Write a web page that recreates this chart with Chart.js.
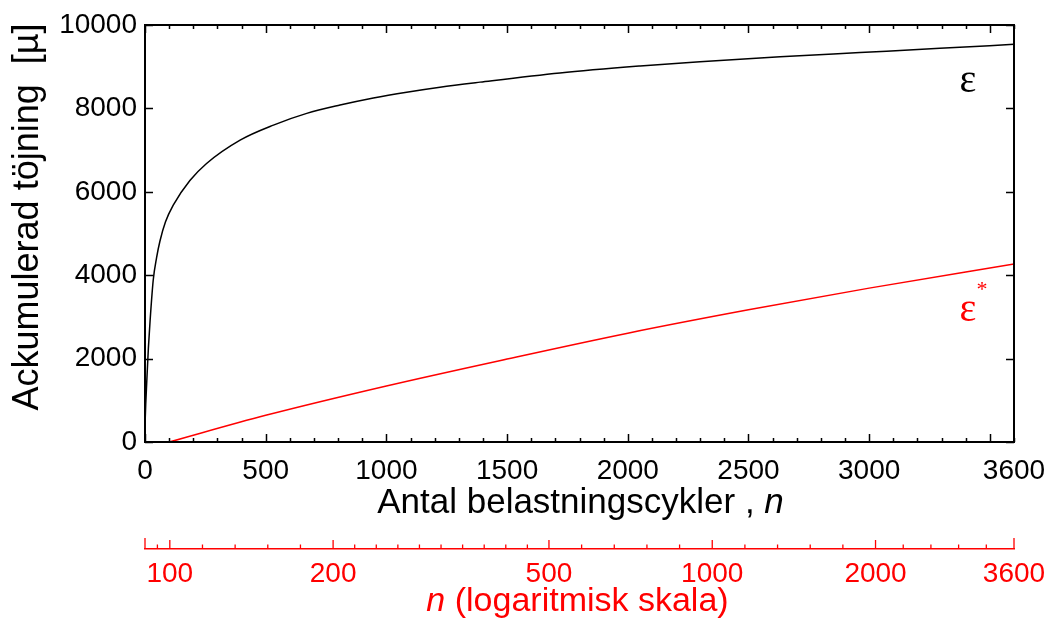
<!DOCTYPE html>
<html>
<head>
<meta charset="utf-8">
<script src="https://cdn.jsdelivr.net/npm/chart.js@4.4.0/dist/chart.umd.min.js"></script>
<style>
  html, body { margin: 0; padding: 0; background: #fff; }
  #wrap { width: 1050px; height: 623px; }
</style>
</head>
<body>
<div id="wrap"><canvas id="chart" width="1050" height="623"></canvas></div>
<script>
// accumulated strain (black)
var epsN = [0, 3, 7, 14, 21, 34, 48, 62, 85, 117, 186, 255, 394, 532, 670, 808, 946, 1084, 1222, 1388, 1719, 2051, 2299, 2631, 2962, 3293, 3600];
var epsV = [400, 900, 1408, 2250, 2900, 3880, 4420, 4820, 5280, 5680, 6270, 6680, 7240, 7600, 7880, 8080, 8250, 8390, 8510, 8630, 8850, 9016, 9120, 9240, 9340, 9440, 9537];
// corrected strain eps* (red)
var epsStarN = [100, 500, 1000, 1500, 2000, 2500, 3000, 3600];
var epsStarV = [0, 640, 1344, 1990, 2610, 3170, 3690, 4270];

var xTicks = [0, 500, 1000, 1500, 2000, 2500, 3000, 3600];
var xMinorStep = 100;
var yTicks = [0, 2000, 4000, 6000, 8000, 10000];
var logTicks = [100, 200, 500, 1000, 2000, 3600];
var logMin = 90, logMax = 3600;
var logMinorCount = [2, 5, 10, 5, 5, 5]; // intervals between neighbouring log ticks

var curveLabels = ['ε', 'ε'];
var curveLabelN = [3409, 3409];
var curveLabelV = [8656, 3161];
var curveLabelColor = ['#000', '#ff0000'];

var FONT = "'Liberation Sans', Arial, Helvetica, sans-serif";
var SERIF = "'Liberation Serif', 'Times New Roman', serif";
Chart.defaults.font.family = FONT;

var toPoints = (xs, ys) => xs.map((x, i) => ({x: x, y: ys[i]}));
var noSidePad = (s) => { s.paddingLeft = 0; s.paddingRight = 0; };

var decor = {
    id: 'decor',
    afterDraw(chart) {
        var ctx = chart.ctx, a = chart.chartArea;
        var x = chart.scales.x, y = chart.scales.y, lx = chart.scales.x2;
        ctx.save();

        // frame with inward ticks on all four sides
        ctx.strokeStyle = '#000';
        ctx.lineWidth = 2;
        ctx.strokeRect(a.left, a.top, a.right - a.left, a.bottom - a.top);
        ctx.lineWidth = 1.5;
        ctx.beginPath();
        for (var v = 0; v <= 3600; v += xMinorStep) {
            var px = Math.round(x.getPixelForValue(v)) + 0.5;
            var len = v % 500 === 0 ? 8 : 4;
            ctx.moveTo(px, a.bottom); ctx.lineTo(px, a.bottom - len);
            ctx.moveTo(px, a.top); ctx.lineTo(px, a.top + len);
        }
        yTicks.forEach((t) => {
            var py = Math.round(y.getPixelForValue(t)) + 0.5;
            ctx.moveTo(a.left, py); ctx.lineTo(a.left + 8, py);
            ctx.moveTo(a.right, py); ctx.lineTo(a.right - 8, py);
        });
        ctx.stroke();

        // log axis: ticks point up from the axis line
        var base = lx.top;
        var edges = [logMin].concat(logTicks);
        ctx.strokeStyle = '#ff0000';
        ctx.lineWidth = 1.3;
        ctx.beginPath();
        for (var i = 0; i < edges.length - 1; i++) {
            var lo = edges[i], hi = edges[i + 1], m = logMinorCount[i];
            for (var k = 1; k < m; k++) {
                var mp = lx.getPixelForValue(lo * Math.pow(hi / lo, k / m));
                ctx.moveTo(mp, base); ctx.lineTo(mp, base - 4.5);
            }
        }
        logTicks.forEach((t) => {
            var tp = lx.getPixelForValue(t);
            var tl = (t === logMax) ? 11 : 9;
            ctx.moveTo(tp, base); ctx.lineTo(tp, base - tl);
        });
        var p0 = lx.getPixelForValue(logMin);
        ctx.moveTo(p0, base); ctx.lineTo(p0, base - 11);
        ctx.stroke();

        // axis titles
        var drawMixed = (parts, cx, by, color) => {
            ctx.fillStyle = color;
            ctx.textBaseline = 'alphabetic';
            ctx.textAlign = 'left';
            var total = 0;
            parts.forEach((p) => { ctx.font = p[1]; total += ctx.measureText(p[0]).width; });
            var sx = cx - total / 2;
            parts.forEach((p) => { ctx.font = p[1]; ctx.fillText(p[0], sx, by); sx += ctx.measureText(p[0]).width; });
        };
        var cx = (a.left + a.right) / 2;
        drawMixed([['Antal belastningscykler , ', '35px ' + FONT], ['n', 'italic 35px ' + FONT]], cx + 1, 513, '#000');
        drawMixed([['n', 'italic 34px ' + FONT], [' (logaritmisk skala)', '34px ' + FONT]], cx - 2, 611, '#ff0000');

        ctx.save();
        ctx.translate(38, 217);
        ctx.rotate(-Math.PI / 2);
        ctx.font = '36px ' + FONT;
        ctx.fillStyle = '#000';
        ctx.textAlign = 'center';
        ctx.textBaseline = 'alphabetic';
        ctx.fillText('Ackumulerad töjning  [µ]', 0, 0);
        ctx.restore();

        // curve labels
        ctx.textAlign = 'center';
        ctx.textBaseline = 'middle';
        curveLabels.forEach((s, i) => {
            var lxp = x.getPixelForValue(curveLabelN[i]);
            var lyp = y.getPixelForValue(curveLabelV[i]);
            ctx.fillStyle = curveLabelColor[i];
            ctx.font = '40px ' + SERIF;
            ctx.fillText(s, lxp, lyp);
            if (i === 1) {
                ctx.font = '22px ' + SERIF;
                ctx.fillText('*', lxp + 14, lyp - 20);
            }
        });
        ctx.restore();
    }
};

new Chart(document.getElementById('chart'), {
    type: 'line',
    data: {
        datasets: [
            {
                label: 'ε',
                data: toPoints(epsN, epsV),
                borderColor: '#000',
                borderWidth: 1.5,
                pointRadius: 0,
                cubicInterpolationMode: 'monotone',
                xAxisID: 'x', yAxisID: 'y'
            },
            {
                label: 'ε*',
                data: toPoints(epsStarN, epsStarV),
                borderColor: '#ff0000',
                borderWidth: 1.5,
                pointRadius: 0,
                cubicInterpolationMode: 'monotone',
                xAxisID: 'x', yAxisID: 'y'
            }
        ]
    },
    options: {
        responsive: false,
        animation: false,
        events: [],
        layout: { padding: { top: 25, right: 36, left: 0, bottom: 0 } },
        plugins: { legend: { display: false }, tooltip: { enabled: false } },
        scales: {
            x: {
                type: 'linear',
                position: 'bottom',
                min: 0, max: 3600,
                weight: 0,
                afterBuildTicks: (s) => { s.ticks = xTicks.map((v) => ({value: v})); },
                afterFit: (s) => { s.height = 107; noSidePad(s); },
                grid: { display: false, drawTicks: false },
                border: { display: false },
                ticks: {
                    color: '#000', font: { size: 28 }, padding: 12,
                    autoSkip: false, maxRotation: 0,
                    callback: (v) => String(v)
                }
            },
            x2: {
                type: 'logarithmic',
                position: 'bottom',
                min: logMin, max: logMax,
                weight: 1,
                afterBuildTicks: (s) => { s.ticks = logTicks.map((v) => ({value: v})); },
                afterFit: (s) => { s.height = 74; noSidePad(s); },
                grid: { display: false, drawTicks: false },
                border: { display: true, color: '#ff0000', width: 1.5 },
                ticks: {
                    color: '#ff0000', font: { size: 28 }, padding: 8,
                    autoSkip: false, maxRotation: 0,
                    callback: (v) => String(v)
                }
            },
            y: {
                type: 'linear',
                position: 'left',
                min: 0, max: 10000,
                afterBuildTicks: (s) => { s.ticks = yTicks.map((v) => ({value: v})); },
                afterFit: (s) => { s.width = 145; s.paddingTop = 0; s.paddingBottom = 0; },
                grid: { display: false, drawTicks: false },
                border: { display: false },
                ticks: {
                    color: '#000', font: { size: 28 }, padding: 8,
                    callback: (v) => String(v)
                }
            }
        }
    },
    plugins: [decor]
});
</script>
</body>
</html>
